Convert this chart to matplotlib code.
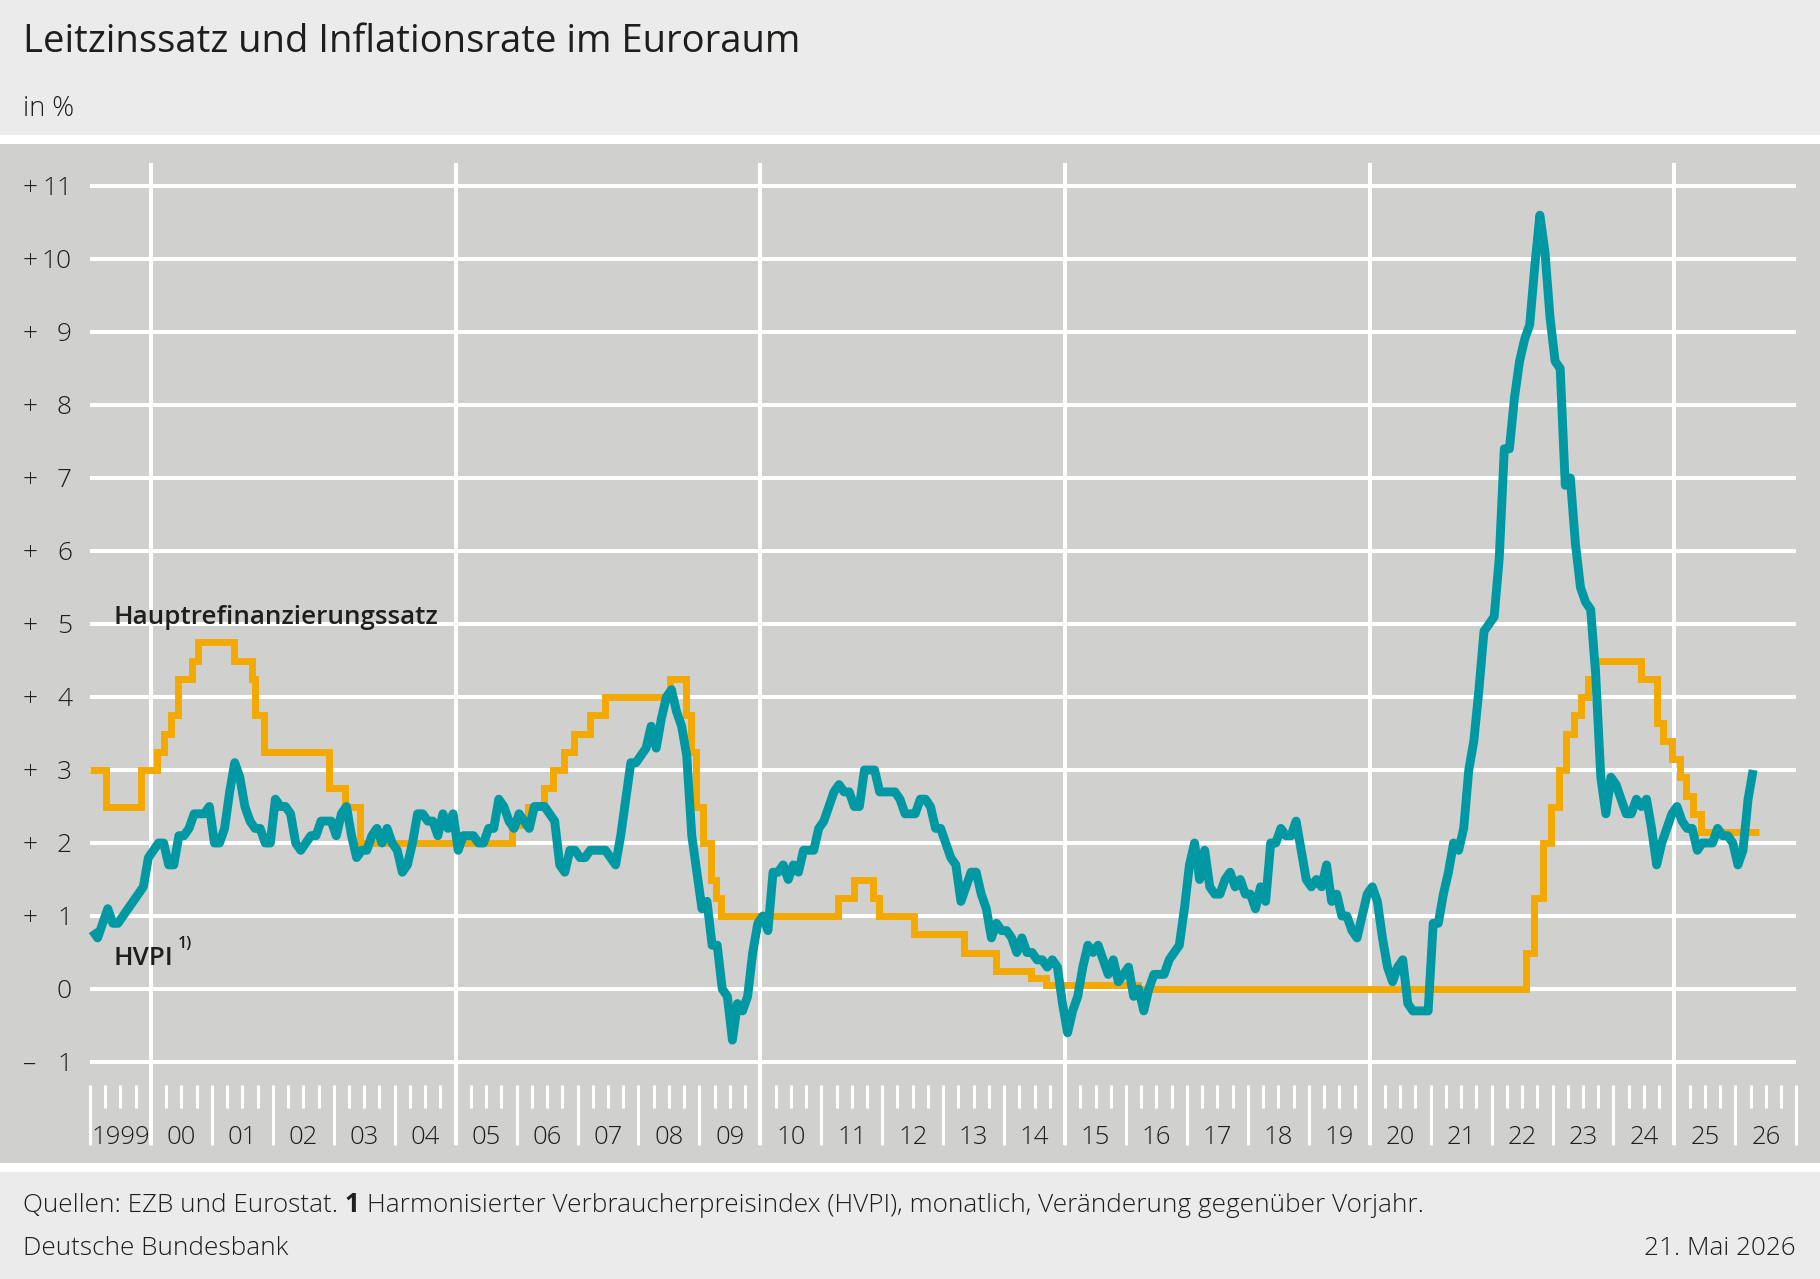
import matplotlib
matplotlib.use("Agg")
import matplotlib.pyplot as plt
from matplotlib.patches import Rectangle
from matplotlib.transforms import blended_transform_factory
from datetime import date

plt.rcParams['font.family'] = ['Open Sans', 'DejaVu Sans']

# ---------------- data ----------------
# HICP (HVPI), monthly, % change on previous year, Jan 1999 .. Apr 2026
hicp_first_year = 1999
hicp_values = [
    0.8, 0.7, 0.9, 1.1, 0.9, 0.9, 1.0, 1.1, 1.2, 1.3, 1.4, 1.8,   # 1999
    1.9, 2.0, 2.0, 1.7, 1.7, 2.1, 2.1, 2.2, 2.4, 2.4, 2.4, 2.5,   # 2000
    2.0, 2.0, 2.2, 2.7, 3.1, 2.9, 2.5, 2.3, 2.2, 2.2, 2.0, 2.0,   # 2001
    2.6, 2.5, 2.5, 2.4, 2.0, 1.9, 2.0, 2.1, 2.1, 2.3, 2.3, 2.3,   # 2002
    2.1, 2.4, 2.5, 2.1, 1.8, 1.9, 1.9, 2.1, 2.2, 2.0, 2.2, 2.0,   # 2003
    1.9, 1.6, 1.7, 2.0, 2.4, 2.4, 2.3, 2.3, 2.1, 2.4, 2.2, 2.4,   # 2004
    1.9, 2.1, 2.1, 2.1, 2.0, 2.0, 2.2, 2.2, 2.6, 2.5, 2.3, 2.2,   # 2005
    2.4, 2.3, 2.2, 2.5, 2.5, 2.5, 2.4, 2.3, 1.7, 1.6, 1.9, 1.9,   # 2006
    1.8, 1.8, 1.9, 1.9, 1.9, 1.9, 1.8, 1.7, 2.1, 2.6, 3.1, 3.1,   # 2007
    3.2, 3.3, 3.6, 3.3, 3.7, 4.0, 4.1, 3.8, 3.6, 3.2, 2.1, 1.6,   # 2008
    1.1, 1.2, 0.6, 0.6, 0.0, -0.1, -0.7, -0.2, -0.3, -0.1, 0.5, 0.9,  # 2009
    1.0, 0.8, 1.6, 1.6, 1.7, 1.5, 1.7, 1.6, 1.9, 1.9, 1.9, 2.2,   # 2010
    2.3, 2.5, 2.7, 2.8, 2.7, 2.7, 2.5, 2.5, 3.0, 3.0, 3.0, 2.7,   # 2011
    2.7, 2.7, 2.7, 2.6, 2.4, 2.4, 2.4, 2.6, 2.6, 2.5, 2.2, 2.2,   # 2012
    2.0, 1.8, 1.7, 1.2, 1.4, 1.6, 1.6, 1.3, 1.1, 0.7, 0.9, 0.8,   # 2013
    0.8, 0.7, 0.5, 0.7, 0.5, 0.5, 0.4, 0.4, 0.3, 0.4, 0.3, -0.2,  # 2014
    -0.6, -0.3, -0.1, 0.3, 0.6, 0.5, 0.6, 0.4, 0.2, 0.4, 0.1, 0.2,  # 2015
    0.3, -0.1, 0.0, -0.3, 0.0, 0.2, 0.2, 0.2, 0.4, 0.5, 0.6, 1.1,  # 2016
    1.7, 2.0, 1.5, 1.9, 1.4, 1.3, 1.3, 1.5, 1.6, 1.4, 1.5, 1.3,   # 2017
    1.3, 1.1, 1.4, 1.2, 2.0, 2.0, 2.2, 2.1, 2.1, 2.3, 1.9, 1.5,   # 2018
    1.4, 1.5, 1.4, 1.7, 1.2, 1.3, 1.0, 1.0, 0.8, 0.7, 1.0, 1.3,   # 2019
    1.4, 1.2, 0.7, 0.3, 0.1, 0.3, 0.4, -0.2, -0.3, -0.3, -0.3, -0.3,  # 2020
    0.9, 0.9, 1.3, 1.6, 2.0, 1.9, 2.2, 3.0, 3.4, 4.1, 4.9, 5.0,   # 2021
    5.1, 5.9, 7.4, 7.4, 8.1, 8.6, 8.9, 9.1, 9.9, 10.6, 10.1, 9.2,  # 2022
    8.6, 8.5, 6.9, 7.0, 6.1, 5.5, 5.3, 5.2, 4.3, 2.9, 2.4, 2.9,   # 2023
    2.8, 2.6, 2.4, 2.4, 2.6, 2.5, 2.6, 2.2, 1.7, 2.0, 2.2, 2.4,   # 2024
    2.5, 2.3, 2.2, 2.2, 1.9, 2.0, 2.0, 2.0, 2.2, 2.1, 2.1, 2.0,   # 2025
    1.7, 1.9, 2.6, 3.0,                                           # 2026
]

# Main refinancing rate (Hauptrefinanzierungssatz): change dates and levels
rate_dates = [
    "1999-01-01", "1999-04-09", "1999-11-05", "2000-02-04", "2000-03-17",
    "2000-04-28", "2000-06-09", "2000-09-06", "2000-10-11", "2001-05-11",
    "2001-08-31", "2001-09-18", "2001-11-09", "2002-12-06", "2003-03-07",
    "2003-06-06", "2005-12-06", "2006-03-08", "2006-06-15", "2006-08-09",
    "2006-10-11", "2006-12-13", "2007-03-14", "2007-06-13", "2008-07-09",
    "2008-10-15", "2008-11-12", "2008-12-10", "2009-01-21", "2009-03-11",
    "2009-04-08", "2009-05-13", "2011-04-13", "2011-07-13", "2011-11-09",
    "2011-12-14", "2012-07-11", "2013-05-08", "2013-11-13", "2014-06-11",
    "2014-09-10", "2016-03-16", "2022-07-27", "2022-09-14", "2022-11-02",
    "2022-12-21", "2023-02-08", "2023-03-22", "2023-05-10", "2023-06-21",
    "2023-08-02", "2023-09-20", "2024-06-12", "2024-09-18", "2024-10-23",
    "2024-12-18", "2025-02-05", "2025-03-12", "2025-04-23", "2025-06-11",
]
rate_values = [
    3.00, 2.50, 3.00, 3.25, 3.50,
    3.75, 4.25, 4.50, 4.75, 4.50,
    4.25, 3.75, 3.25, 2.75, 2.50,
    2.00, 2.25, 2.50, 2.75, 3.00,
    3.25, 3.50, 3.75, 4.00, 4.25,
    3.75, 3.25, 2.50, 2.00, 1.50,
    1.25, 1.00, 1.25, 1.50, 1.25,
    1.00, 0.75, 0.50, 0.25, 0.15,
    0.05, 0.00, 0.50, 1.25, 2.00,
    2.50, 3.00, 3.50, 3.75, 4.00,
    4.25, 4.50, 4.25, 3.65, 3.40,
    3.15, 2.90, 2.65, 2.40, 2.15,
]
rate_end_date = "2026-05-21"

y_ticks = list(range(-1, 12))
year_labels = ["1999"] + ["%02d" % (y % 100) for y in range(2000, 2027)]

TITLE = "Leitzinssatz und Inflationsrate im Euroraum"
UNIT = "in %"
LABEL_RATE = "Hauptrefinanzierungssatz"
LABEL_HICP = "HVPI"
SOURCE_A = "Quellen: EZB und Eurostat."
SOURCE_B = "1"
SOURCE_C = "Harmonisierter Verbraucherpreisindex (HVPI), monatlich, Veränderung gegenüber Vorjahr."
PUBLISHER = "Deutsche Bundesbank"
DATE = "21. Mai 2026"

# ---------------- helpers ----------------
def dec_year(s):
    d = date.fromisoformat(s)
    start = date(d.year, 1, 1)
    n = (date(d.year + 1, 1, 1) - start).days
    return d.year + (d - start).days / n

hicp_x = [hicp_first_year + (i + 0.5) / 12 for i in range(len(hicp_values))]
rate_x = [dec_year(s) for s in rate_dates] + [dec_year(rate_end_date)]
rate_y = rate_values + [rate_values[-1]]

# ---------------- layout ----------------
W, H = 1820, 1279
TEAL = "#0098a3"
ORANGE = "#f4a900"
PANEL = "#d0d0ce"
HEAD = "#ebebeb"
TXT = "#1e1e1c"
PX_YEAR = 60.94   # pixels per year
X0_PX = 90        # pixel position of 1 Jan 1999
Y0_PX = 989       # pixel position of value 0
PX_UNIT = 73.0    # pixels per percentage point
LEFT = 23

fig = plt.figure(figsize=(W / 100, H / 100), dpi=100)
fig.patch.set_facecolor("white")

def fy(p):
    return 1 - p / H

fig.add_artist(Rectangle((0, fy(135)), 1, 135 / H, transform=fig.transFigure,
                         facecolor=HEAD, edgecolor="none", zorder=0))
fig.add_artist(Rectangle((0, 0), 1, (H - 1172) / H, transform=fig.transFigure,
                         facecolor=HEAD, edgecolor="none", zorder=0))

ax = fig.add_axes([0, fy(1163), 1, (1163 - 144) / H])
ax.set_facecolor(PANEL)
for s in ax.spines.values():
    s.set_visible(False)
ax.set_xticks([])
ax.set_yticks([])
ax.set_xlim(1999 - X0_PX / PX_YEAR, 1999 + (W - X0_PX) / PX_YEAR)
ax.set_ylim((Y0_PX - 1163) / PX_UNIT, (Y0_PX - 144) / PX_UNIT)

x_start, x_end = 1999, 2027
GRID_LW = 2.9
TICK_LW = 2.2
tick_top, qtick_bot, ytick_bot = -1.315, -1.63, -2.14

ax.hlines(y_ticks, x_start, x_end, color="white", lw=GRID_LW, zorder=1)
ax.vlines(list(range(2000, 2026, 5)), ytick_bot, 11.31, color="white", lw=GRID_LW, zorder=1)
ax.vlines(list(range(x_start, x_end + 1)), ytick_bot, tick_top, color="white", lw=TICK_LW, zorder=1)
qt = [y + q for y in range(x_start, x_end) for q in (0.25, 0.5, 0.75)]
ax.vlines(qt, qtick_bot, tick_top, color="white", lw=TICK_LW, zorder=1)

# series
ax.step(rate_x, rate_y, where="post", color=ORANGE, lw=5.0, zorder=3,
        solid_joinstyle="miter", solid_capstyle="butt")
ax.plot(hicp_x, hicp_values, color=TEAL, lw=6.4, zorder=4,
        solid_joinstyle="round", solid_capstyle="butt")

# y tick labels
tr_y = blended_transform_factory(fig.transFigure, ax.transData)
for v in y_ticks:
    sign = "+" if v > 0 else ("–" if v < 0 else "")
    yb = v - 0.13
    if sign:
        ax.text(LEFT / W, yb, sign, transform=tr_y, ha="left", va="baseline",
                fontsize=19, fontweight="light", color=TXT)
    ax.text(72 / W, yb, str(abs(v)), transform=tr_y, ha="right", va="baseline",
            fontsize=19, fontweight="light", color=TXT)

# x labels
for i, lab in enumerate(year_labels):
    ax.text(x_start + i + 0.5, -2.12, lab, ha="center", va="baseline",
            fontsize=18.5, fontweight="light", color=TXT)

# series labels
lbl_x = 1999 + (114 - X0_PX) / PX_YEAR
ax.text(lbl_x, (Y0_PX - 624) / PX_UNIT, LABEL_RATE, ha="left", va="baseline",
        fontsize=18.7, fontweight="semibold", color=TXT, zorder=5)
t_hvpi = ax.text(lbl_x, (Y0_PX - 965) / PX_UNIT, LABEL_HICP, ha="left", va="baseline",
                 fontsize=18.7, fontweight="semibold", color=TXT, zorder=5)

# title block
fig.text(LEFT / W, fy(52), TITLE, ha="left", va="baseline", fontsize=27.5,
         fontweight="medium", color=TXT)
fig.text(LEFT / W, fy(116), UNIT, ha="left", va="baseline", fontsize=19.5,
         fontweight="light", color=TXT)

fig.canvas.draw()
r = fig.canvas.get_renderer()

# superscript after HVPI
bb = t_hvpi.get_window_extent(renderer=r)
fig.text((bb.x1 + 4) / W, (bb.y0 + 4 + 19) / H, "1)", ha="left", va="baseline",
         fontsize=11.5, fontweight="semibold", color=TXT)

def text_w(s, **kw):
    t = fig.text(0, 0, s, **kw)
    w = t.get_window_extent(renderer=r).width
    t.remove()
    return w

FOOT = dict(fontsize=18.8, fontweight="light", color=TXT, ha="left", va="baseline")
space = text_w("n n", **FOOT) - text_w("nn", **FOOT)
x = LEFT
for s, wgt in [(SOURCE_A, "light"), (SOURCE_B, "bold"), (SOURCE_C, "light")]:
    kw = dict(FOOT)
    kw["fontweight"] = wgt
    t = fig.text(x / W, fy(1212), s, **kw)
    x = t.get_window_extent(renderer=r).x1 + space

fig.text(LEFT / W, fy(1255), PUBLISHER, **FOOT)
kw = dict(FOOT)
kw["ha"] = "right"
fig.text(1796 / W, fy(1255), DATE, **kw)

fig.savefig("out.png", dpi=100, facecolor=fig.get_facecolor())
